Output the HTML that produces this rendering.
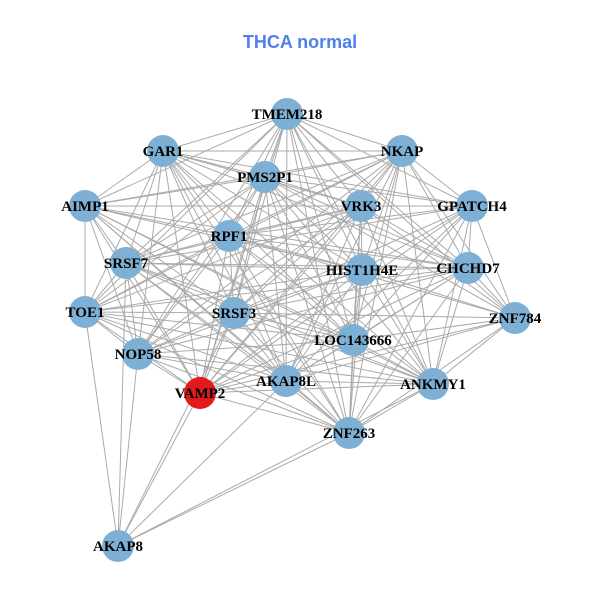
<!DOCTYPE html>
<html><head><meta charset="utf-8"><style>
html,body{margin:0;padding:0;background:#fff}
svg{display:block}
text{font-family:"Liberation Serif",serif;font-weight:bold;font-size:15px;fill:#000}
</style></head><body>
<svg id="s" width="600" height="600" viewBox="0 0 600 600">
<rect width="600" height="600" fill="#fff"/>
<text x="300" y="48" text-anchor="middle" style="font-family:'Liberation Sans',sans-serif;font-size:18px;fill:#4f7fef">THCA normal</text>
<g id="e" stroke="#aaaaaa" stroke-width="1"></g>
<g id="n"></g>
</svg>
<script>
var N={TMEM218:[287,114],GAR1:[163,151],NKAP:[402,151],PMS2P1:[265,177],AIMP1:[85,206],VRK3:[361,206],GPATCH4:[472,206],RPF1:[229,236],SRSF7:[126,263],HIST1H4E:[362,270],CHCHD7:[468,268],TOE1:[85,312],SRSF3:[234,313],ZNF784:[515,318],LOC143666:[353,340],NOP58:[138,354],VAMP2:[200,393],AKAP8L:[286,381],ANKMY1:[433,384],ZNF263:[349,433],AKAP8:[118,546]};
var k=Object.keys(N).filter(function(x){return x!="AKAP8"});
var skip={"AIMP1-ZNF784":1,"TOE1-ZNF784":1,"GAR1-ZNF784":1,"NOP58-ZNF784":1,"TOE1-GPATCH4":1,"NOP58-GPATCH4":1,"AIMP1-GPATCH4":1,"SRSF7-ZNF784":1};
var h="";
function L(a,b){h+='<line x1="'+N[a][0]+'" y1="'+N[a][1]+'" x2="'+N[b][0]+'" y2="'+N[b][1]+'"/>';}
for(var i=0;i<k.length;i++)for(var j=i+1;j<k.length;j++){if(skip[k[i]+"-"+k[j]]||skip[k[j]+"-"+k[i]])continue;L(k[i],k[j]);}
["TOE1","SRSF7","NOP58","VAMP2","SRSF3","AKAP8L","ZNF263","ANKMY1"].forEach(function(b){L("AKAP8",b)});
document.getElementById("e").innerHTML=h;
var g="";
for(var x in N){g+='<circle cx="'+N[x][0]+'" cy="'+N[x][1]+'" r="16" fill="'+(x=="VAMP2"?"#e31a1c":"#7eb0d5")+'"/>';}
for(var x in N){g+='<text x="'+N[x][0]+'" y="'+(N[x][1]+5)+'" text-anchor="middle">'+x+'</text>';}
document.getElementById("n").innerHTML=g;
</script>
</body></html>
